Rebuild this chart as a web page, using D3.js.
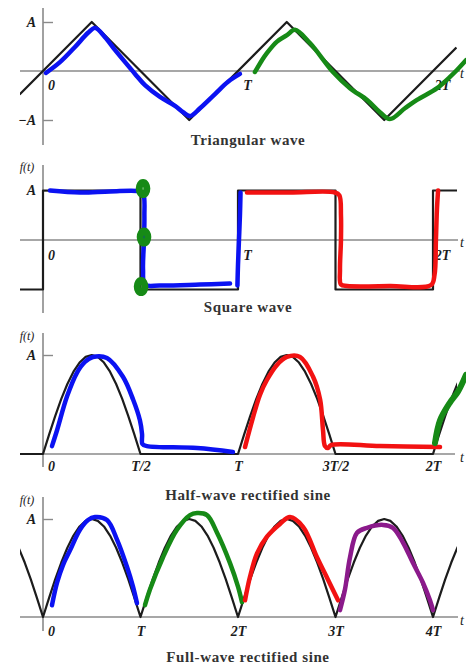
<!DOCTYPE html>
<html><head><meta charset="utf-8">
<script src="https://cdn.jsdelivr.net/npm/d3@7"></script>
<style>
html,body{margin:0;padding:0;background:#fff;}
svg{display:block;}
</style></head>
<body>
<svg id="chart" width="466" height="666"></svg>
<script>
// ---------- data ----------
// black reference waveforms (t in periods, value in units of A)
const triWaveT = [-0.12, 0.25, 0.75, 1.25, 1.75, 2.12];
const triWaveV = [-0.48, 1, -1, 1, -1, 0.48];
const sqWaveT = [-0.12, 0, 0, 0.5, 0.5, 1, 1, 1.5, 1.5, 2, 2, 2.13];
const sqWaveV = [-1, -1, 1, 1, -1, -1, 1, 1, -1, -1, 1, 1];
const sineLobe = [0, 0.195, 0.383, 0.556, 0.707, 0.831, 0.924, 0.981, 1, 0.981, 0.924, 0.831, 0.707, 0.556, 0.383, 0.195, 0];
const halfWaveStarts = [0, 1, 2];
const fullWaveStarts = [-1, 0, 1, 2, 3, 4];

// hand-drawn overlays [t, value]
const triBlue = [[0.015,-0.04],[0.087,0.18],[0.164,0.49],[0.231,0.78],[0.267,0.88],[0.318,0.69],[0.369,0.43],[0.421,0.18],[0.472,-0.06],[0.523,-0.29],[0.6,-0.53],[0.677,-0.71],[0.718,-0.84],[0.754,-0.92],[0.805,-0.76],[0.882,-0.47],[0.949,-0.22],[1.01,-0.06]];
const triGreen = [[1.087,-0.02],[1.123,0.22],[1.149,0.37],[1.2,0.6],[1.251,0.73],[1.292,0.84],[1.369,0.57],[1.487,-0.02],[1.574,-0.35],[1.662,-0.59],[1.728,-0.84],[1.779,-0.98],[1.856,-0.76],[1.918,-0.59],[2.021,-0.35],[2.087,-0.12],[2.123,0.02],[2.169,0.22]];
const sqBlue1 = [[0.036,1.0],[0.19,0.96],[0.344,0.98],[0.497,0.98],[0.515,0.92],[0.52,0.5],[0.518,0],[0.513,-0.6],[0.523,-0.9],[0.6,-0.92],[0.805,-0.9],[0.959,-0.88]];
const sqBlue2 = [[0.997,-0.92],[1.0,-0.5],[1.005,0],[1.01,0.5],[1.013,0.96]];
const sqGreenMarks = [[0.513,1.04],[0.518,0.06],[0.503,-0.94]];
const sqRed = [[1.046,0.96],[1.267,0.96],[1.497,0.96],[1.52,0.9],[1.528,0.5],[1.528,0],[1.523,-0.6],[1.528,-0.9],[1.56,-0.93],[1.779,-0.93],[1.99,-0.91],[2.008,-0.7],[2.015,0],[2.02,0.6],[2.026,1.0]];
const halfBlue = [[0.046,0.08],[0.072,0.24],[0.123,0.58],[0.174,0.82],[0.215,0.93],[0.256,0.98],[0.328,0.97],[0.41,0.78],[0.462,0.55],[0.497,0.34],[0.508,0.2],[0.51,0.1],[0.533,0.08],[0.79,0.06],[0.974,0.02]];
const halfRed = [[1.036,0.07],[1.077,0.37],[1.113,0.6],[1.149,0.75],[1.2,0.9],[1.251,0.98],[1.318,0.98],[1.385,0.78],[1.421,0.55],[1.436,0.24],[1.446,0.08],[1.462,0.06],[1.477,0.09],[1.728,0.08],[2.036,0.07]];
const halfGreen = [[2.01,0.11],[2.036,0.34],[2.087,0.52],[2.128,0.63],[2.169,0.8]];
const fullBlue = [[0.092,0.12],[0.144,0.35],[0.205,0.53],[0.277,0.68],[0.379,0.89],[0.462,0.99],[0.533,1.02],[0.656,0.99],[0.759,0.79],[0.862,0.51],[0.923,0.31],[0.964,0.14]];
const fullGreen = [[1.046,0.12],[1.097,0.28],[1.231,0.61],[1.374,0.89],[1.508,1.04],[1.579,1.06],[1.682,1.04],[1.785,0.86],[1.918,0.55],[2.0,0.31],[2.041,0.15]];
const fullRed = [[2.072,0.17],[2.123,0.41],[2.195,0.65],[2.297,0.82],[2.431,0.95],[2.533,1.02],[2.667,0.92],[2.81,0.61],[2.923,0.38],[3.026,0.17]];
const fullPurple = [[3.046,0.07],[3.097,0.28],[3.149,0.61],[3.221,0.86],[3.323,0.91],[3.487,0.94],[3.59,0.91],[3.692,0.76],[3.795,0.55],[3.897,0.35],[3.969,0.17],[4.0,0.07]];

// tick labels
const ticks2T = [0, 1, 2];
const labels2T = ["0", "T", "2T"];
const ticksHalf = [0, 0.5, 1, 1.5, 2];
const labelsHalf = ["0", "T/2", "T", "3T/2", "2T"];
const ticks4T = [0, 1, 2, 3, 4];
const labels4T = ["0", "T", "2T", "3T", "4T"];
const titles = ["Triangular wave", "Square wave", "Half-wave rectified sine", "Full-wave rectified sine"];

// ---------- drawing ----------
const svg = d3.select("#chart");
svg.append("rect").attr("width",466).attr("height",666).attr("fill","#fff");
const SERIF = "'Liberation Serif','DejaVu Serif',serif";
const AXIS = "#8a8a8a", INK = "#1c1c1c";
const COL = {blue:"#0b12f2", green:"#168a16", red:"#f21212", purple:"#8b1a8b"};

const x2 = d3.scaleLinear().domain([0, 2]).range([43, 433]);
const x4 = d3.scaleLinear().domain([0, 4]).range([43, 433]);

const panels = [
  {x:x2, y:d3.scaleLinear().domain([-1,1]).range([120,22]), vTop:8, vBot:145, hR:460,
   yt:[-1,1], yl:["−A","A"], xt:ticks2T, xl:labels2T, shift:9, ldy:14, title:titles[0], ty:140, ft:null, tY:73},
  {x:x2, y:d3.scaleLinear().domain([-1,1]).range([289.5,190.5]), vTop:165, vBot:313, hR:458,
   yt:[1], yl:["A"], xt:ticks2T, xl:labels2T, shift:9, ldy:15, title:titles[1], ty:307, ft:167, tY:242},
  {x:x2, y:d3.scaleLinear().domain([0,1]).range([454,355]), vTop:333, vBot:467, hR:455,
   yt:[1], yl:["A"], xt:ticksHalf, xl:labelsHalf, shift:0, ldy:12, title:titles[2], ty:495, ft:336, tY:457},
  {x:x4, y:d3.scaleLinear().domain([0,1]).range([617,519]), vTop:497, vBot:631, hR:458,
   yt:[1], yl:["A"], xt:ticks4T, xl:labels4T, shift:0, ldy:14, title:titles[3], ty:657, ft:500, tY:620}
];

svg.append("defs").append("clipPath").attr("id","clipX")
  .append("rect").attr("x",20).attr("y",0).attr("width",437).attr("height",666);

function drawFrame(p){
  const g = svg.append("g");
  const zero = p.y(0);
  g.append("line").attr("x1",20).attr("x2",p.hR).attr("y1",zero).attr("y2",zero)
    .attr("stroke",AXIS).attr("stroke-width",1.6);
  g.append("line").attr("x1",43).attr("x2",43).attr("y1",p.vTop).attr("y2",p.vBot)
    .attr("stroke",AXIS).attr("stroke-width",1.6);
  // y axis ticks (inner) with labels
  const ya = g.append("g").attr("transform","translate(43,0)")
    .call(d3.axisLeft(p.y).tickValues(p.yt).tickSize(-10).tickPadding(7)
      .tickFormat((d,i)=>p.yl[i]));
  ya.select(".domain").remove();
  ya.selectAll("line").attr("stroke",AXIS).attr("stroke-width",1.4);
  ya.selectAll("text").attr("font-family",SERIF).attr("font-size",14)
    .attr("font-style","italic").attr("font-weight","bold").attr("fill",INK);
  // x axis labels
  const xa = g.append("g").attr("transform",`translate(0,${zero})`)
    .call(d3.axisBottom(p.x).tickValues(p.xt).tickSize(0).tickPadding(0)
      .tickFormat((d,i)=>p.xl[i]));
  xa.select(".domain").remove();
  xa.selectAll("text").attr("font-family",SERIF).attr("font-size",14)
    .attr("font-style","italic").attr("font-weight","bold").attr("fill",INK)
    .attr("dy",null).attr("y",p.ldy).attr("dominant-baseline","central")
    .attr("x",(d)=> d===0 ? 8 : p.shift);
  // t label
  g.append("text").attr("x",460).attr("y",p.tY).attr("dominant-baseline","central")
    .attr("font-family",SERIF).attr("font-style","italic").attr("font-size",14).attr("fill",INK).text("t");
  if (p.ft !== null){
    g.append("text").attr("x",27).attr("y",p.ft).attr("text-anchor","middle").attr("dominant-baseline","central")
      .attr("font-family",SERIF).attr("font-style","italic").attr("font-size",12).attr("fill",INK).text("f(t)");
  }
  g.append("text").attr("x",248).attr("y",p.ty).attr("text-anchor","middle").attr("dominant-baseline","central")
    .attr("font-family",SERIF).attr("font-size",15).attr("font-weight","bold").attr("letter-spacing",0.6)
    .attr("fill","#333").text(p.title);
}
panels.forEach(drawFrame);

function blackLine(p, pts, curve){
  svg.append("path").datum(pts).attr("clip-path","url(#clipX)")
    .attr("d", d3.line().x(d=>p.x(d[0])).y(d=>p.y(d[1])).curve(curve || d3.curveLinear))
    .attr("fill","none").attr("stroke",INK).attr("stroke-width",2.2).attr("stroke-linejoin","round");
}
function hand(p, pts, color, w){
  svg.append("path").datum(pts)
    .attr("d", d3.line().x(d=>p.x(d[0])).y(d=>p.y(d[1])).curve(d3.curveCatmullRom.alpha(0.5)))
    .attr("fill","none").attr("stroke",color).attr("stroke-width",w||4.5)
    .attr("stroke-linecap","round").attr("stroke-linejoin","round");
}
function lobes(starts, width, lead){
  const pts = [[lead,0]];
  starts.forEach(s=>{
    sineLobe.forEach((v,k)=> pts.push([s + k*width/(sineLobe.length-1), v]));
    if (width < 1) pts.push([s + 1, 0]);
  });
  return pts;
}

// Panel 1: triangular
blackLine(panels[0], triWaveT.map((t,i)=>[t, triWaveV[i]]));
hand(panels[0], triBlue, COL.blue);
hand(panels[0], triGreen, COL.green);

// Panel 2: square
blackLine(panels[1], sqWaveT.map((t,i)=>[t, sqWaveV[i]]));
hand(panels[1], sqBlue1, COL.blue);
hand(panels[1], sqBlue2, COL.blue);
hand(panels[1], sqRed, COL.red);
svg.append("g").selectAll("ellipse").data(sqGreenMarks).join("ellipse")
  .attr("cx", d=>panels[1].x(d[0])).attr("cy", d=>panels[1].y(d[1])).attr("rx",3.8).attr("ry",6)
  .attr("fill","none").attr("stroke",COL.green).attr("stroke-width",7);

// Panel 3: half-wave
blackLine(panels[2], lobes(halfWaveStarts, 0.5, -0.12), d3.curveLinear);
hand(panels[2], halfBlue, COL.blue);
hand(panels[2], halfRed, COL.red);
hand(panels[2], halfGreen, COL.green, 6);

// Panel 4: full-wave
blackLine(panels[3], lobes(fullWaveStarts, 1, -1), d3.curveLinear);
hand(panels[3], fullBlue, COL.blue);
hand(panels[3], fullGreen, COL.green);
hand(panels[3], fullRed, COL.red);
hand(panels[3], fullPurple, COL.purple);
</script>
</body></html>
